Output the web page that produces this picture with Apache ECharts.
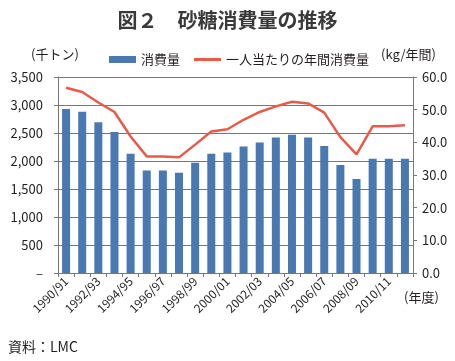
<!DOCTYPE html>
<html><head><meta charset="utf-8">
<script src="https://cdn.jsdelivr.net/npm/echarts@6/dist/echarts.min.js"></script>
<style>html,body{margin:0;padding:0;background:#fff}#c{width:455px;height:361px}</style>
</head><body><div id="c"></div>
<script>
const categories = ['1990/91','1991/92','1992/93','1993/94','1994/95','1995/96','1996/97','1997/98','1998/99','1999/00','2000/01','2001/02','2002/03','2003/04','2004/05','2005/06','2006/07','2007/08','2008/09','2009/10','2010/11','2011/12'];
const consumption = [2930,2880,2690,2520,2130,1830,1830,1790,1970,2130,2150,2260,2330,2420,2470,2420,2270,1930,1680,2040,2040,2040];
const perCapita = [56.7,55.4,52.2,49.3,41.8,35.7,35.7,35.4,39.3,43.3,44.0,46.9,49.3,51.0,52.4,51.9,49.1,41.6,36.3,44.9,44.9,45.2];
const leftTicks = [0,500,1000,1500,2000,2500,3000,3500];
const rightTicks = [0,10,20,30,40,50,60];

const font = '"Noto Sans CJK JP", "Noto Sans", sans-serif';
const txt = '#231f20';
const chart = echarts.init(document.getElementById('c'), null, {renderer:'canvas'});
chart.setOption({
  animation:false,
  textStyle:{fontFamily:font},
  title:{text:'図２　砂糖消費量の推移', left:'center', top:5,
    textStyle:{fontFamily:font, fontSize:20, fontWeight:'bold', color:'#3a3a3a'}},
  legend:{top:48, left:104, itemGap:14, itemWidth:27, itemHeight:7, symbolKeepAspect:true,
    textStyle:{fontFamily:font, fontSize:13, color:txt},
    data:[{name:'消費量', icon:'rect'},
          {name:'一人当たりの年間消費量', icon:'path://M0,0h27v3h-27z', itemStyle:{color:'#e95a48'}}]},
  graphic:[
    {type:'text', left:31, top:48, style:{text:'(千トン)', font:'13px '+font, fill:txt}},
    {type:'text', left:381, top:48, style:{text:'(kg/年間)', font:'13px '+font, fill:txt}},
    {type:'text', left:404, top:291, style:{text:'(年度)', font:'13px '+font, fill:txt}},
    {type:'text', left:8, top:340, style:{text:'資料：LMC', font:'14px '+font, fill:txt}}
  ],
  grid:{left:58, right:42, top:77, bottom:88},
  xAxis:{type:'category', data:categories, boundaryGap:true,
    axisLine:{lineStyle:{color:'#777', width:1}},
    axisTick:{show:true, length:4, interval:0, lineStyle:{color:'#777'}},
    axisLabel:{rotate:45, interval:1, margin:6, fontSize:12, color:txt, fontFamily:font}},
  yAxis:[
    {type:'value', min:0, max:3500, interval:500, position:'left',
     axisLine:{show:true, lineStyle:{color:'#777'}},
     axisTick:{show:true, length:4, lineStyle:{color:'#777'}},
     splitLine:{show:true, lineStyle:{color:'#777', width:1}},
     axisLabel:{margin:15, fontSize:13, color:txt, fontFamily:font,
       formatter:v=> v===0 ? '–' : v.toLocaleString('en-US')}},
    {type:'value', min:0, max:60, interval:10, position:'right',
     axisLine:{show:true, lineStyle:{color:'#777'}},
     axisTick:{show:true, length:4, lineStyle:{color:'#777'}},
     splitLine:{show:false},
     axisLabel:{margin:9, fontSize:13, color:txt, fontFamily:font,
       formatter:v=> v.toFixed(1)}}
  ],
  series:[
    {name:'消費量', type:'bar', data:consumption, yAxisIndex:0, barWidth:8,
     itemStyle:{color:'#4a78b1'}},
    {name:'一人当たりの年間消費量', type:'line', data:perCapita, yAxisIndex:1,
     symbol:'none', lineStyle:{color:'#e95a48', width:2.5}, itemStyle:{color:'#e95a48'}}
  ]
});
</script></body></html>
